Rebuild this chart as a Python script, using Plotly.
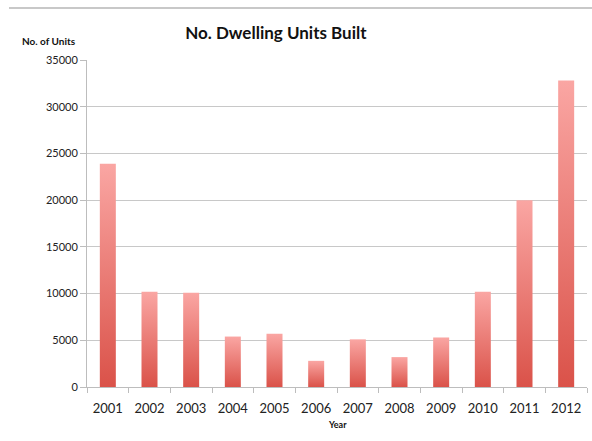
import plotly.graph_objects as go

years = ["2001", "2002", "2003", "2004", "2005", "2006", "2007", "2008", "2009", "2010", "2011", "2012"]
units = [23900, 10200, 10100, 5400, 5700, 2800, 5100, 3200, 5300, 10200, 20000, 32800]
y_ticks = [0, 5000, 10000, 15000, 20000, 25000, 30000, 35000]

BAR_W = 0.384
TOP_COLOR = "#faa6a3"
BOTTOM_COLOR = "#da5249"
FONT = "Lato"

fig = go.Figure()
for i, v in enumerate(units):
    fig.add_trace(go.Scatter(
        x=[i - BAR_W / 2, i + BAR_W / 2, i + BAR_W / 2, i - BAR_W / 2, i - BAR_W / 2],
        y=[0, 0, v, v, 0],
        mode="lines",
        line=dict(width=0),
        fill="toself",
        fillgradient=dict(type="vertical",
                          colorscale=[[0, BOTTOM_COLOR], [1, TOP_COLOR]]),
        name=years[i],
        hoverinfo="text",
        text=f"{years[i]}: {v}",
        showlegend=False,
    ))

fig.update_layout(
    width=592, height=441,
    margin=dict(l=87, r=5, t=60, b=54),
    paper_bgcolor="white", plot_bgcolor="white",
    font=dict(family=FONT, color="#222222"),
    title=dict(text="<b>No. Dwelling Units Built</b>", font=dict(size=17, family=FONT, color="#111111"),
               xref="container", yref="container", x=0.466, y=0.925,
               xanchor="center", yanchor="middle"),
    showlegend=False,
)

fig.update_xaxes(
    range=[-0.5, len(years) - 0.5],
    tickmode="array", tickvals=list(range(len(years))), ticktext=years,
    ticks="", showgrid=False, zeroline=False,
    showline=True, linecolor="#bdbdbd", linewidth=1,
    tickfont=dict(size=13, family=FONT, color="#222222"),
    ticklabelstandoff=9,
    minor=dict(tickmode="array", tickvals=[i - 0.5 for i in range(len(years) + 1)],
               ticks="outside", ticklen=5, tickcolor="#bdbdbd", showgrid=False),
    fixedrange=True,
)
fig.update_yaxes(
    range=[0, 35000],
    tickmode="array", tickvals=y_ticks, tickformat="d",
    ticks="outside", ticklen=6, tickcolor="#bdbdbd",
    showgrid=True, gridcolor="#c8c8c8", gridwidth=1,
    zeroline=False, showline=True, linecolor="#bdbdbd", linewidth=1,
    tickfont=dict(size=11, family=FONT, color="#222222"),
    fixedrange=True,
)

fig.add_shape(type="line", xref="paper", yref="paper",
              x0=-0.156, x1=1.01, y0=1.159, y1=1.159,
              line=dict(color="#c8c8c8", width=2))
fig.add_annotation(text="<b>No. of Units</b>", xref="paper", yref="paper",
                   x=-0.076, y=1.058, xanchor="center", yanchor="middle",
                   showarrow=False, font=dict(size=10, family=FONT, color="#111111"))
fig.add_annotation(text="<b>Year</b>", xref="paper", yref="paper",
                   x=0.5, y=-0.116, xanchor="center", yanchor="middle",
                   showarrow=False, font=dict(size=9, family=FONT, color="#111111"))

fig.write_html("out.html")
